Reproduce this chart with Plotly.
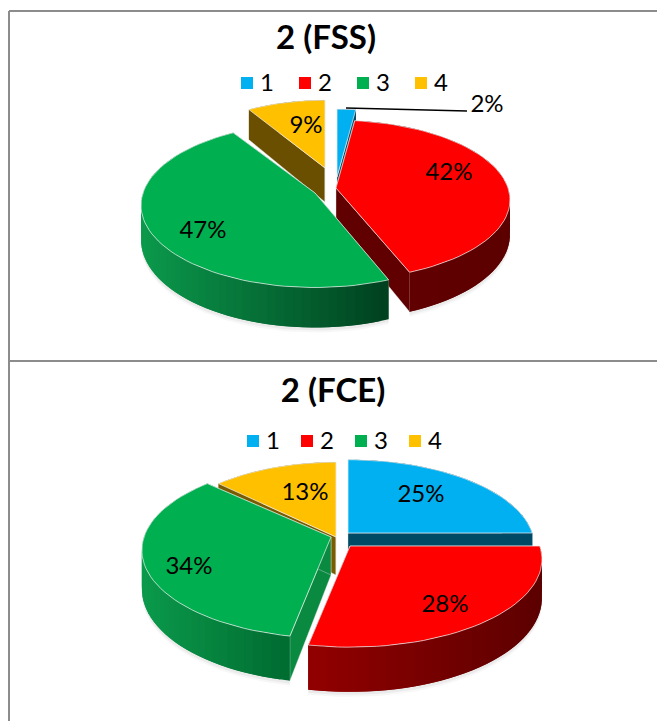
import math
import plotly.graph_objects as go

CATEGORIES = ["1", "2", "3", "4"]
FSS_VALUES = [2, 42, 47, 9]
FCE_VALUES = [25, 28, 34, 13]
TITLES = ["2 (FSS)", "2 (FCE)"]
COLORS = ["#00B0F0", "#FF0000", "#00B050", "#FFC000"]

FONT = "Lato, Carlito, Calibri, sans-serif"
WIDTH, HEIGHT = 657, 721
PERSP = 0.15  # perspective foreshortening of the tilted disc

PANELS = [
    dict(values=FSS_VALUES, title=TITLES[0], title_xy=(326, 41),
         a=172, b=78, depth=34,
         apex={0: (337, 177), 1: (336, 188), 2: (315, 193), 3: (325, 168)},
         scale={0: (1, 1), 1: (1, 1), 2: (1, 1.03), 3: (0.93, 1)},
         order=[3, 0, 1, 2],
         wall={0: ("#004a66", "#004a66"), 1: ("#640000", "#5c0000"),
               2: ("#0b9a4c", "#00401f"), 3: ("#6b4f00", "#6b4f00")},
         face={0: "#004a66", 1: "#600000", 2: "#006b30", 3: "#6b4f00"},
         legend_y=85, legend_sq=[247, 305, 363, 421], legend_tx=[267, 325, 383, 441],
         labels={0: (487, 106), 1: (449, 174), 2: (203, 232), 3: (306, 127)}),
    dict(values=FCE_VALUES, title=TITLES[1], title_xy=(333, 394),
         a=187, b=86, depth=38,
         apex={0: (348, 533), 1: (350, 546), 2: (331, 537), 3: (336, 537)},
         scale={0: (0.985, 0.98), 1: (1.015, 1), 2: (1, 1), 3: (0.95, 1)},
         order=[0, 3, 2, 1],
         wall={0: ("#004a66", "#004a66"), 1: ("#920000", "#5c0000"),
               2: ("#0b9a4c", "#006b30"), 3: ("#7a5c00", "#7a5c00")},
         face={0: "#004a66", 1: "#7a0000", 2: "#0a8a40", 3: "#7a5c00"},
         legend_y=443, legend_sq=[253, 307, 361, 415], legend_tx=[273, 327, 381, 435],
         labels={0: (421, 496), 1: (445, 606), 2: (189, 568), 3: (305, 494)}),
]
LEADER = ((346, 108), (467, 111))


def project(panel, i, apex, deg):
    t = math.radians(deg)
    X, Y = math.sin(t), -math.cos(t)
    s = 1 / (1 - PERSP * Y)
    sx, sy = panel["scale"][i]
    return apex[0] + panel["a"] * sx * X * s, apex[1] + panel["b"] * sy * Y * s, s


def mix(c1, c2, f):
    a = [int(c1[i:i + 2], 16) for i in (1, 3, 5)]
    b = [int(c2[i:i + 2], 16) for i in (1, 3, 5)]
    return "#%02x%02x%02x" % tuple(round(p + (q - p) * f) for p, q in zip(a, b))


fig = go.Figure()


def poly(xs, ys, fill, line=None, width=0.6):
    fig.add_trace(go.Scatter(
        x=list(xs) + [xs[0]], y=list(ys) + [ys[0]], mode="lines", fill="toself",
        fillcolor=fill, line=dict(color=line or fill, width=width),
        hoverinfo="skip", showlegend=False))


for p in PANELS:
    total = sum(p["values"])
    starts, acc = [], 0
    for v in p["values"]:
        starts.append(acc / total * 360)
        acc += v
    for i in p["order"]:
        apex = p["apex"][i]
        a0 = starts[i]
        a1 = a0 + p["values"][i] / total * 360
        n = max(3, int((a1 - a0) / 2.5))
        angs = [a0 + (a1 - a0) * k / n for k in range(n + 1)]
        d = p["depth"]
        rim = [project(p, i, apex, q) for q in angs]
        # soft shadow under the wall
        for off, alpha in ((5, 0.05), (3, 0.07)):
            front = [r for r, q in zip(rim, angs) if 85 < q % 360 < 275]
            if len(front) > 1:
                xs_f = [r[0] for r in front]
                ys_b = [r[1] + d * r[2] for r in front]
                poly(xs_f + xs_f[::-1], ys_b + [y + off for y in ys_b[::-1]],
                     f"rgba(90,90,90,{alpha})", line="rgba(0,0,0,0)", width=0)
        # radial faces
        for ang in (a0, a1):
            x, y, s = project(p, i, apex, ang)
            poly([apex[0], x, x, apex[0]], [apex[1], y, y + d * s, apex[1] + d],
                 p["face"][i], line="rgba(235,235,235,0.6)")
        # outer wall, shaded along the rim from left to right
        xs_rim = [r[0] for r in rim]
        xmin, xmax = min(xs_rim), max(xs_rim)
        for k in range(n):
            seg = rim[k:k + 3]
            f = ((rim[k][0] + rim[k + 1][0]) / 2 - xmin) / max(1, xmax - xmin)
            c = mix(p["wall"][i][0], p["wall"][i][1], f)
            xs_s = [r[0] for r in seg]
            poly(xs_s + xs_s[::-1],
                 [r[1] for r in seg] + [r[1] + d * r[2] for r in seg[::-1]],
                 c, line="rgba(0,0,0,0)", width=0)
        # top face
        poly([apex[0]] + xs_rim, [apex[1]] + [r[1] for r in rim],
             COLORS[i], line="rgba(240,240,240,0.7)", width=1)

    # legend built from markers and text
    fig.add_trace(go.Scatter(
        x=p["legend_sq"], y=[p["legend_y"] - 2] * 4, mode="markers",
        marker=dict(symbol="square", size=12, color=COLORS, line=dict(width=0)),
        hoverinfo="skip", showlegend=False))
    fig.add_trace(go.Scatter(
        x=p["legend_tx"], y=[p["legend_y"]] * 4, mode="text", text=CATEGORIES,
        textfont=dict(family=FONT, size=24, color="#000"),
        hoverinfo="skip", showlegend=False))
    # percentage labels
    fig.add_trace(go.Scatter(
        x=[p["labels"][i][0] for i in range(4)],
        y=[p["labels"][i][1] for i in range(4)],
        mode="text",
        text=[f"{round(v / total * 100)}%" for v in p["values"]],
        textfont=dict(family=FONT, size=24, color="#000"),
        hoverinfo="skip", showlegend=False))
    # title
    fig.add_trace(go.Scatter(
        x=[p["title_xy"][0]], y=[p["title_xy"][1]], mode="text", text=[f"<b>{p['title']}</b>"],
        textfont=dict(family=FONT, size=33, color="#000"),
        hoverinfo="skip", showlegend=False))

fig.add_trace(go.Scatter(
    x=[LEADER[0][0], LEADER[1][0]], y=[LEADER[0][1], LEADER[1][1]], mode="lines",
    line=dict(color="#000", width=1.6), hoverinfo="skip", showlegend=False))

border = dict(color="#8c8c8c", width=2)
fig.update_layout(
    width=WIDTH, height=HEIGHT, margin=dict(l=0, r=0, t=0, b=0),
    paper_bgcolor="white", plot_bgcolor="white", showlegend=False,
    xaxis=dict(range=[0, WIDTH], visible=False, fixedrange=True),
    yaxis=dict(range=[HEIGHT, 0], visible=False, fixedrange=True),
    shapes=[
        dict(type="line", x0=9, x1=WIDTH, y0=11, y1=11, line=border),
        dict(type="line", x0=9, x1=9, y0=11, y1=HEIGHT, line=border),
        dict(type="line", x0=9, x1=WIDTH, y0=361, y1=361, line=border),
    ],
)
fig.write_html(
    "out.html", config=dict(displayModeBar=False),
    post_script="document.body.style.margin='0';document.body.style.overflow='hidden';"
                "document.documentElement.style.overflow='hidden';",
)
